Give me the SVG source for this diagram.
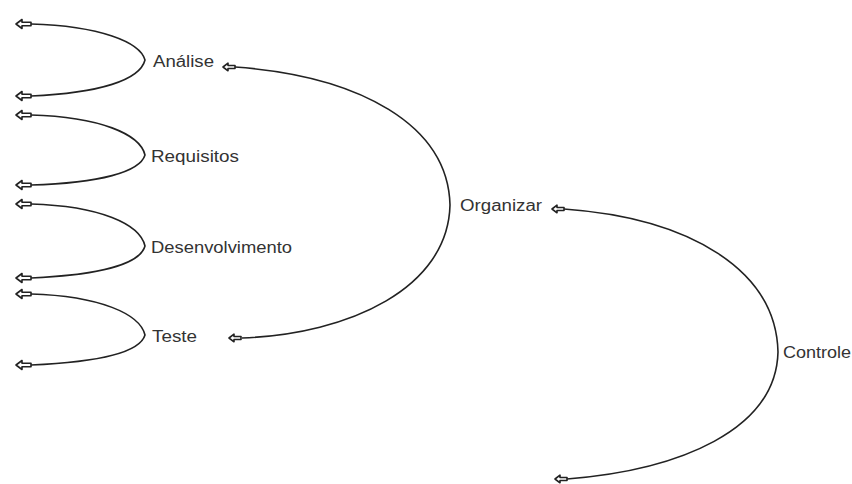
<svg xmlns="http://www.w3.org/2000/svg" xmlns:xlink="http://www.w3.org/1999/xlink" width="852" height="484" viewBox="0 0 852 484">
<style>
.lbl{font-family:"Liberation Sans",Arial,sans-serif;font-size:16px;fill:#333}
.c{fill:none;stroke:#222;stroke-width:1.6}
.ah{fill:#fff;stroke:#222;stroke-width:1.6;stroke-linejoin:round}
</style>
<defs>
<path id="arr" class="ah" d="M0,0 L6,-4.5 L6,-1.8 L15,-1.8 L15,1.8 L6,1.8 L6,4.5 Z"/>
<path id="arrs" class="ah" d="M0,0 L5,-3.8 L5,-1.5 L12,-1.5 L12,1.5 L5,1.5 L5,3.8 Z"/>
</defs>
<rect width="852" height="484" fill="#fff"/>
<g id="connectors">
<path class="c" d="M31,24 C100,26 140,42 145,60 C140,80 100,93 31,96"/>
<path class="c" d="M31,115 C100,117 140,134 145,155 C140,172 100,183 31,185"/>
<path class="c" d="M31,204 C100,206 140,224 145,246 C140,264 100,275 31,278"/>
<path class="c" d="M31,294 C100,296 140,314 145,335 C140,352 100,362 31,365"/>
<path class="c" d="M235,67 C360,76 448,125 450,205 C448,288 350,334 242,338"/>
<path class="c" d="M564,209 C690,218 776,270 778,352 C776,430 680,470 567,479"/>
<use href="#arr" x="16" y="24"/>
<use href="#arr" x="16" y="96"/>
<use href="#arr" x="16" y="115"/>
<use href="#arr" x="16" y="185"/>
<use href="#arr" x="16" y="204"/>
<use href="#arr" x="16" y="278"/>
<use href="#arr" x="16" y="294"/>
<use href="#arr" x="16" y="365"/>
<use href="#arrs" x="223" y="67"/>
<use href="#arrs" x="229" y="338"/>
<use href="#arrs" x="552" y="209"/>
<use href="#arrs" x="555" y="479"/>
</g>
<g id="analise"><text class="lbl" x="153" y="67" textLength="61" lengthAdjust="spacingAndGlyphs">Análise</text></g>
<g id="requisitos"><text class="lbl" x="151" y="162" textLength="88" lengthAdjust="spacingAndGlyphs">Requisitos</text></g>
<g id="desenvolvimento"><text class="lbl" x="151" y="253" textLength="141" lengthAdjust="spacingAndGlyphs">Desenvolvimento</text></g>
<g id="teste"><text class="lbl" x="152" y="342" textLength="45" lengthAdjust="spacingAndGlyphs">Teste</text></g>
<g id="organizar"><text class="lbl" x="460" y="211" textLength="82" lengthAdjust="spacingAndGlyphs">Organizar</text></g>
<g id="controle"><text class="lbl" x="783" y="358" textLength="68" lengthAdjust="spacingAndGlyphs">Controle</text></g>
</svg>
